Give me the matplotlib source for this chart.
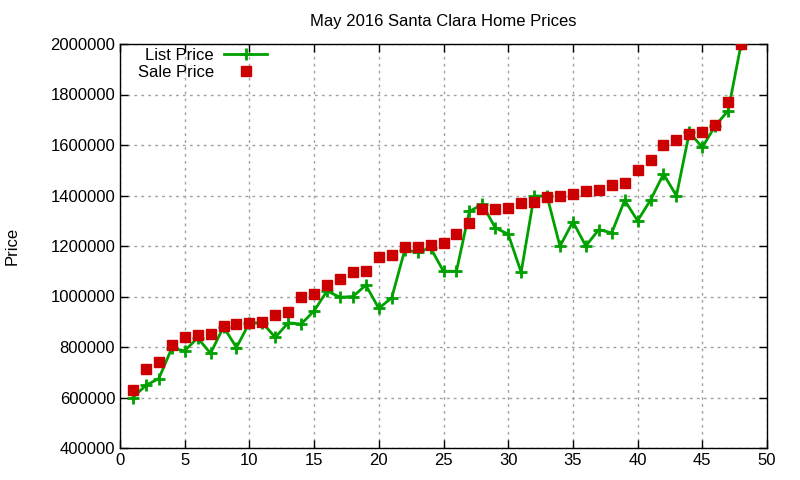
import matplotlib
matplotlib.use('Agg')
import matplotlib.pyplot as plt
import numpy as np

plt.rcParams['font.family'] = ['Liberation Sans', 'DejaVu Sans']

# ===== data =====
idx = np.arange(1, 49)
list_price = [600000, 648000, 675000, 795000, 785000, 836000, 775000, 880000, 798000, 896000,
              896000, 838000, 896000, 891000, 943000, 1022000, 997000, 1000000, 1045000, 953000,
              995000, 1183000, 1176000, 1192000, 1100000, 1100000, 1337000, 1365000, 1272000, 1247000,
              1096000, 1398000, 1398000, 1199000, 1296000, 1200000, 1265000, 1252000, 1381000, 1300000,
              1382000, 1485000, 1399000, 1650000, 1591000, 1676000, 1736000, 2000000]
sale_price = [628000, 713000, 742000, 808000, 838000, 848000, 852000, 884000, 893000, 897000,
              900000, 925000, 937000, 1000000, 1011000, 1047000, 1070000, 1098000, 1100000, 1158000,
              1166000, 1197000, 1197000, 1205000, 1210000, 1249000, 1290000, 1347000, 1348000, 1350000,
              1372000, 1373000, 1396000, 1400000, 1404000, 1419000, 1420000, 1440000, 1449000, 1500000,
              1540000, 1599000, 1618000, 1642000, 1650000, 1679000, 1769000, 2000000]

fig = plt.figure(figsize=(8, 4.8), dpi=100)
ax = fig.add_axes([120/800, 1 - 448/480, 647/800, 404/480])

ax.plot(idx, list_price, color='#00a000', lw=2, marker='+', ms=8, mew=2,
        label='List Price', zorder=3)
ax.plot(idx, sale_price, ls='none', color='#cc0000', marker='s', ms=6.5,
        label='Sale Price', zorder=4)

ax.set_xlim(0, 50)
ax.set_ylim(400000, 2000000)
ax.set_xticks(np.arange(0, 51, 5))
ax.set_yticks(np.arange(400000, 2000001, 200000))
ax.ticklabel_format(axis='y', style='plain', useOffset=False)
ax.tick_params(direction='in', top=True, right=True, labelsize=12, length=6, width=1)
ax.grid(True, ls=(0, (2, 3)), color='#a0a0a0', lw=1)
for s in ax.spines.values():
    s.set_linewidth(1)

ax.set_title('May 2016 Santa Clara Home Prices', fontsize=12, pad=13)
ax.set_ylabel('Price', fontsize=12, labelpad=22)

leg = ax.legend(loc='upper left', bbox_to_anchor=(0.012, 1.015), markerfirst=False,
                frameon=False, fontsize=12, handlelength=2.6, borderaxespad=0.2,
                labelspacing=0.1, handletextpad=0.6)

plt.savefig('out.png', dpi=100)
